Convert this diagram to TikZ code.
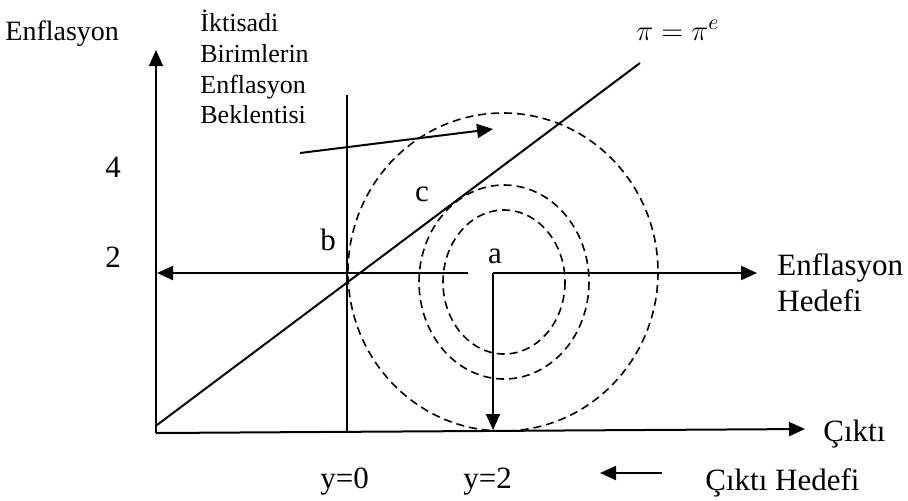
\documentclass[tikz,border=0pt]{standalone}
\usepackage{fontspec}
\setmainfont{Liberation Serif}
\usetikzlibrary{arrows.meta,positioning}

\begin{document}
\begin{tikzpicture}[x=0.5pt,y=-0.5pt,
    axis/.style={line width=1pt},
    arrow/.style={-{Triangle[length=8pt,width=7pt]}, line width=1pt},
    curve/.style={dash pattern=on 4pt off 2.5pt, line width=0.8pt},
    lbl/.style={font=\fontsize{15.5}{18}\selectfont, inner sep=0pt},
    small/.style={font=\fontsize{13}{15.3}\selectfont, inner sep=0pt, align=left}
]
\useasboundingbox (0,0) rectangle (908,500);

% axes
\coordinate (origin) at (156,433);
\coordinate (ytop) at (156,50);
\coordinate (xend) at (805,429);
\draw[arrow] (origin) -- (ytop);
\draw[arrow] (origin) -- (xend);

% pi = pi^e line and y=0 line
\coordinate (diagstart) at (157,425);
\coordinate (diagend) at (640,63);
\draw[axis] (diagstart) -- (diagend);
\coordinate (ynulltop) at (347,95);
\coordinate (ynullbot) at (347,432);
\draw[axis] (ynulltop) -- (ynullbot);

% loss circles
\coordinate (target) at (504,282);
\draw[curve] (target) ellipse [x radius=61, y radius=72];
\draw[curve] (target) ellipse [x radius=85, y radius=97];
\draw[curve] (503,272) ellipse [x radius=155, y radius=159];

% target arrows
\coordinate (leftend) at (468,273);
\coordinate (leftTip) at (157,273);
\coordinate (corner) at (493,273);
\coordinate (rightTip) at (757,273);
\coordinate (downTip) at (493,430);
\draw[arrow] (leftend) -- (leftTip);
\draw[arrow] (downTip |- corner) -- (rightTip);
\draw[arrow] (corner) -- (downTip);

% expectation arrow
\coordinate (expstart) at (300,153);
\coordinate (exptip) at (493,129);
\draw[arrow] (expstart) -- (exptip);

% labels
\node[lbl, font=\fontsize{14}{17}\selectfont, anchor=base west] (ylabel) at (5,40) {Enflasyon};
\node[small, anchor=north west] (explabel) at (200,10) {İktisadi\\Birimlerin\\Enflasyon\\Beklentisi};
\node[lbl] (four) at (113,167) {4};
\node[lbl] (two) at (113,257) {2};
\node[lbl] (pb) at (328,240) {b};
\node[lbl] (pa) at (495,256) {a};
\node[lbl] (pc) at (422,194) {c};
\node[lbl, anchor=base west] (pilabel) at (636,40) {$\pi = \pi^{e}$};
\node[lbl, anchor=north west, align=left] (inftarget) at (777,253) {Enflasyon\\Hedefi};
\node[lbl, anchor=base west] (xlabel) at (823,441) {Çıktı};
\node[lbl, anchor=base west] (ynull) at (320,488) {y=0};
\node[lbl, anchor=base west] (ytwo) at (463,488) {y=2};
\node[lbl, anchor=base west] (outtarget) at (705,490) {Çıktı Hedefi};
\coordinate (otstart) at (662,473);
\coordinate (ottip) at (600,473);
\draw[arrow] (otstart) -- (ottip);

\end{tikzpicture}
\end{document}
